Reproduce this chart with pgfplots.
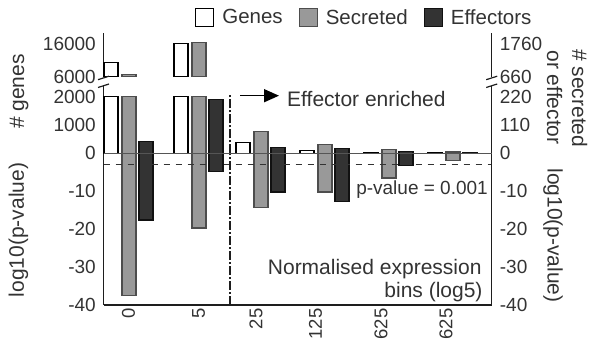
\documentclass[border=0pt]{standalone}
\usepackage{pgfplots}
\pgfplotsset{compat=1.18}
\usetikzlibrary{arrows.meta}
\usepackage{fontspec}
\setmainfont{Liberation Sans}
\definecolor{txt}{HTML}{333333}
\definecolor{axc}{HTML}{1E1E1E}
\definecolor{secf}{HTML}{999999}
\definecolor{sece}{HTML}{4D4D4D}
\definecolor{efff}{HTML}{333333}
\definecolor{effe}{HTML}{111111}
\definecolor{zl}{HTML}{555555}
\newcommand{\tickfont}{\fontsize{19}{20}\selectfont}
\newcommand{\labfont}{\fontsize{21}{23}\selectfont}
\begin{document}
\begin{tikzpicture}[x=1pt,y=1pt]
\useasboundingbox (0pt,0pt) rectangle (589pt,340pt);
\pgfplotsset{
 base/.style={scale only axis, width=388.2pt, xmin=103.5, xmax=491.7,
   anchor=south west, clip=false, ybar, bar shift=0pt, bar width=14,
   axis line style={draw=axc, line width=1.3pt},
   major tick length=0pt, tick style={draw=none},
   ticklabel style={font=\tickfont, text=txt},
   /pgf/number format/assume math mode=true,
   /pgf/number format/1000 sep={},
   scaled y ticks=false,
   xtick=\empty},
 lefty/.style={yticklabel style={anchor=east, inner sep=0pt, xshift=-7.5pt}},
 righty/.style={yticklabel pos=right, yticklabel style={anchor=west, inner sep=0pt, xshift=8pt}},
 gen/.style={fill=white, draw=black, line width=1.1pt},
 sec/.style={fill=secf, draw=sece, line width=1.1pt},
 eff/.style={fill=efff, draw=effe, line width=1.1pt},
 dashdotv/.style={sharp plot, draw=axc, line width=1.4pt, dash pattern=on 9pt off 2pt on 2pt off 2pt},
}
% ---------- bottom section: log10(p-value) ----------
\begin{axis}[base, lefty, at={(103.5pt,35pt)}, height=151.7pt, ymin=-40, ymax=0,
  axis x line*=bottom, axis y line*=box, ytick={-40,-30,-20,-10,0},
  xtick={128.5,198.5,256,315.5,381,446}, xticklabels={0,5,25,125,625,625},
  xticklabel style={font=\fontsize{18.5}{19}\selectfont, inner sep=0pt, yshift=-3.5pt, rotate=90, anchor=east}]
\addplot[sec] coordinates {(129,-37.6) (199,-19.7) (261,-14.2) (325,-10.2) (389,-6.5) (453,-1.8)};
\addplot[eff] coordinates {(146,-17.6) (216,-4.9) (278,-10.2) (342,-12.8) (406,-3.3) (470,-0.1)};
\addplot[sharp plot, draw=txt, line width=1.2pt, dash pattern=on 6.5pt off 5.5pt] coordinates {(103.5,-3) (491.7,-3)};
\addplot[dashdotv] coordinates {(230,-40) (230,0)};
\end{axis}
\begin{axis}[base, righty, at={(103.5pt,35pt)}, height=151.7pt, ymin=-40, ymax=0,
  axis x line=none, axis y line*=right, ytick={-40,-30,-20,-10,0}]
\end{axis}
% ---------- middle section: counts 0-2000 / 0-220 ----------
\begin{axis}[base, lefty, at={(103.5pt,186.7pt)}, height=67.3pt, ymin=0, ymax=2378,
  axis x line=none, axis y line*=box, ytick={1000,2000}]
\addplot[gen, y filter/.expression={min(y,2000)}] coordinates {(111,10430) (181,16280) (243,390) (307,110) (371,35) (435,20)};
\addplot[dashdotv] coordinates {(230,0) (230,2060)};
\end{axis}
\begin{axis}[base, righty, at={(103.5pt,186.7pt)}, height=67.3pt, ymin=0, ymax=261.6,
  axis x line=none, axis y line*=right, ytick={110,220}]
\addplot[sec, y filter/.expression={min(y,220)}] coordinates {(129,740) (199,1810) (261,84) (325,35) (389,15) (453,5)};
\addplot[eff, y filter/.expression={min(y,220)}] coordinates {(146,47) (216,208) (278,23) (342,20) (406,6) (470,1)};
\addplot[sharp plot, draw=zl, line width=1.5pt] coordinates {(103.5,0) (491.7,0)};
\end{axis}
% ---------- top section: counts above the break ----------
\begin{axis}[base, lefty, at={(103.5pt,263.3pt)}, height=43.7pt, ymin=6000, ymax=19446,
  axis x line=none, axis y line*=box, ytick={6000,16000},
  legend image code/.code={\draw[#1] (0pt,-9pt) rectangle (18pt,9pt); \path (24pt,0pt);},
  legend style={at={(axis description cs:0.2357,1.3547)}, anchor=west, draw=none, fill=none,
    inner sep=0pt, font=\fontsize{20.5}{22}\selectfont, text=txt},
  legend columns=3, legend cell align=left,
  legend style={/tikz/every even column/.append style={column sep=14pt}}]
\addplot[gen, sharp plot, forget plot] coordinates {(104,6000) (104,10430) (118,10430) (118,6000)} -- cycle;
\addplot[gen, sharp plot, forget plot] coordinates {(174,6000) (174,16280) (188,16280) (188,6000)} -- cycle;
\addlegendimage{gen}\addlegendentry{Genes}
\addlegendimage{sec}\addlegendentry{Secreted}
\addlegendimage{eff}\addlegendentry{Effectors}
\end{axis}
\begin{axis}[base, righty, at={(103.5pt,263.3pt)}, height=43.7pt, ymin=660, ymax=2139,
  axis x line=none, axis y line*=right, ytick={660,1760}]
\addplot[sec, sharp plot] coordinates {(122,660) (122,740) (136,740) (136,660)} -- cycle;
\addplot[sec, sharp plot] coordinates {(192,660) (192,1810) (206,1810) (206,660)} -- cycle;
\end{axis}
% ---------- axis breaks ----------
\foreach \xx in {103.5,491.7} {
  \draw[axc, line width=1.2pt] ({(\xx-5.5)*1pt},260.3pt) -- ({(\xx+5.5)*1pt},263.8pt);
  \draw[axc, line width=1.2pt] ({(\xx-5.5)*1pt},252.5pt) -- ({(\xx+5.5)*1pt},256pt);
}
% ---------- annotations ----------
\draw[-{Triangle[length=15pt,width=13pt]}, draw=black, line width=1.5pt] (240pt,244.3pt) -- (279pt,244.3pt);
\node[anchor=base west, inner sep=0pt, font=\labfont, text=txt] at (287pt,233.3pt) {Effector enriched};
\node[anchor=base east, inner sep=0pt, font=\fontsize{19}{21}\selectfont, text=txt] at (488pt,145pt) {p-value = 0.001};
\node[anchor=base east, inner sep=0pt, font=\labfont, text=txt] at (481.7pt,65pt) {Normalised expression};
\node[anchor=base east, inner sep=0pt, font=\labfont, text=txt] at (482.7pt,42pt) {bins (log5)};
% ---------- axis titles ----------
\node[rotate=90, font=\labfont, text=txt] at (19pt,248.5pt) {\# genes};
\node[rotate=90, font=\labfont, text=txt] at (18.5pt,110pt) {log10(p-value)};
\node[rotate=-90, font=\labfont, text=txt] at (579.5pt,241.7pt) {\# secreted};
\node[rotate=-90, font=\labfont, text=txt] at (554.5pt,242.5pt) {or effector};
\node[rotate=-90, font=\labfont, text=txt] at (553pt,104.5pt) {log10(p-value)};
\end{tikzpicture}
\end{document}
